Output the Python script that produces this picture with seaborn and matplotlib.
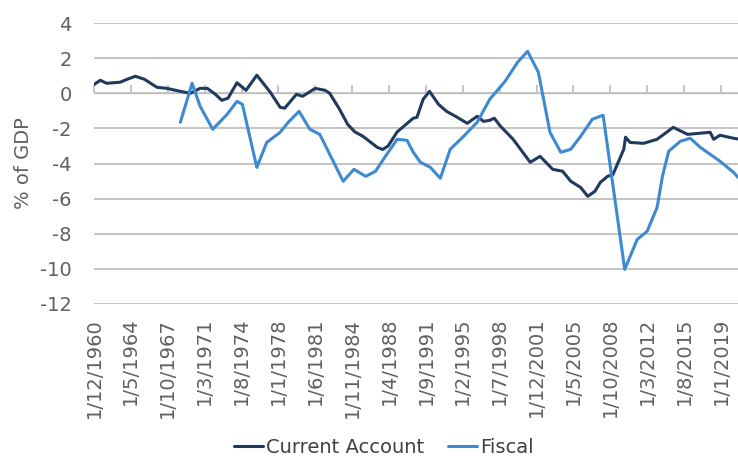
import pandas as pd
import seaborn as sns
import matplotlib.pyplot as plt

# Current account balance, % of GDP
ca_dates = ["1960-12", "1961-07", "1962-02", "1963-05", "1964-01", "1964-10", "1965-08",
            "1966-10", "1967-09", "1968-12", "1969-11", "1970-10", "1971-06", "1972-03",
            "1972-10", "1973-05", "1974-03", "1975-01", "1976-01", "1977-04", "1978-03",
            "1978-08", "1979-09", "1980-04", "1981-06", "1982-05", "1982-10", "1983-09",
            "1984-06", "1985-02", "1985-11", "1987-03", "1987-09", "1988-03", "1989-01",
            "1989-07", "1990-07", "1990-11", "1991-06", "1992-01", "1992-11", "1993-08",
            "1994-08", "1995-07", "1996-06", "1997-01", "1997-08", "1998-01", "1998-08",
            "1999-10", "2001-05", "2002-04", "2003-06", "2004-05", "2005-02", "2006-01",
            "2006-09", "2007-05", "2007-11", "2008-07", "2009-01", "2010-01", "2010-03",
            "2010-08", "2011-11", "2013-02", "2014-08", "2015-12", "2018-01", "2018-05",
            "2018-12", "2020-03", "2020-08"]
ca_values = [0.5, 0.74, 0.57, 0.63, 0.8, 0.97, 0.8,
             0.34, 0.28, 0.11, 0.0, 0.28, 0.28, -0.06,
             -0.4, -0.28, 0.6, 0.17, 1.03, 0.06, -0.8,
             -0.85, -0.06, -0.17, 0.28, 0.17, 0.0, -0.91,
             -1.77, -2.2, -2.45, -3.08, -3.2, -3.0, -2.2,
             -1.94, -1.42, -1.37, -0.34, 0.11, -0.63, -1.03,
             -1.37, -1.71, -1.31, -1.6, -1.54, -1.42, -1.88,
             -2.62, -3.93, -3.59, -4.33, -4.44, -5.01, -5.36,
             -5.87, -5.58, -5.07, -4.73, -4.62, -3.19, -2.5,
             -2.8, -2.85, -2.62, -1.94, -2.34, -2.22, -2.62,
             -2.39, -2.56, -2.6]

# Fiscal balance, % of GDP
fiscal_dates = ["1968-12", "1970-01", "1970-10", "1971-12", "1973-04", "1974-03", "1974-09",
                "1976-01", "1976-12", "1978-03", "1978-12", "1979-12", "1980-12", "1981-11",
                "1984-01", "1985-01", "1986-02", "1987-01", "1987-12", "1989-01", "1989-12",
                "1990-07", "1991-03", "1992-02", "1993-01", "1993-12", "1995-03", "1996-06",
                "1997-08", "1999-01", "2000-03", "2001-02", "2002-02", "2003-03", "2004-03",
                "2005-02", "2006-01", "2007-02", "2008-02", "2010-02", "2011-04", "2012-03",
                "2013-02", "2013-08", "2014-03", "2015-04", "2016-03", "2017-02", "2018-12",
                "2020-03", "2020-08"]
fiscal_values = [-1.65, 0.57, -0.74, -2.05, -1.2, -0.46, -0.63,
                 -4.22, -2.8, -2.22, -1.65, -1.03, -2.05, -2.34,
                 -5.01, -4.33, -4.73, -4.44, -3.59, -2.62, -2.68,
                 -3.36, -3.93, -4.22, -4.84, -3.19, -2.45, -1.65,
                 -0.34, 0.68, 1.77, 2.39, 1.2, -2.22, -3.36,
                 -3.19, -2.45, -1.48, -1.25, -10.03, -8.32, -7.86,
                 -6.5, -4.73, -3.3, -2.73, -2.56, -3.08, -3.87,
                 -4.5, -4.79]

y_ticks = [4, 2, 0, -2, -4, -6, -8, -10, -12]

df = pd.concat([
    pd.DataFrame({"date": pd.to_datetime(ca_dates), "value": ca_values,
                  "series": "Current Account"}),
    pd.DataFrame({"date": pd.to_datetime(fiscal_dates), "value": fiscal_values,
                  "series": "Fiscal"}),
])

sns.set_style("white")
plt.rcParams["font.family"] = ["DejaVu Sans"]
plt.rcParams["axes.unicode_minus"] = False
grey = "#606060"

fig = plt.figure(figsize=(7.38, 4.61), dpi=100)
ax = fig.add_axes([0.1274, 0.3406, 0.8726, 0.6094])

sns.lineplot(data=df, x="date", y="value", hue="series",
             palette={"Current Account": "#1f3a5c", "Fiscal": "#3d8ad0"},
             linewidth=2.2, ax=ax)

ax.set_ylim(-12, 4)
ax.set_yticks(y_ticks)
ax.set_yticklabels([str(v) for v in y_ticks])
ax.set_xlim(pd.Timestamp("1960-12-01"), pd.Timestamp("2020-08-01"))

tick_dates = pd.date_range("1960-12-01", periods=18, freq="41MS")
ax.set_xticks(tick_dates)
ax.set_xticklabels([f"1/{d.month}/{d.year}" for d in tick_dates],
                   rotation=90, fontsize=14, color=grey)
ax.tick_params(axis="x", length=0, pad=10)
ax.tick_params(axis="y", length=0, pad=16, labelsize=14, labelcolor=grey)

for s in ax.spines.values():
    s.set_visible(False)
ax.grid(axis="y", color="#c4c4c4", linewidth=1.4)
ax.set_axisbelow(True)

# category axis crossing at zero, with tick marks
zero_axis = ax.secondary_xaxis(0.75)
zero_axis.set_xticks(tick_dates)
zero_axis.set_xticklabels([])
zero_axis.tick_params(axis="x", length=6, width=1.4, color="#c4c4c4")
zero_axis.spines["bottom"].set_color("#c4c4c4")
zero_axis.spines["bottom"].set_linewidth(1.4)

ax.set_xlabel("")
ax.set_ylabel("% of GDP", fontsize=14, color=grey)
ax.yaxis.set_label_coords(-0.094, 0.5)

ax.legend_.remove()
handles, labels = ax.get_legend_handles_labels()
fig.legend(handles, labels, loc="center", bbox_to_anchor=(0.52, 0.03), ncol=2,
           frameon=False, fontsize=14, labelcolor="#404040",
           handlelength=1.5, handletextpad=0.15, columnspacing=1.2)

fig.savefig("out.png", dpi=100)
